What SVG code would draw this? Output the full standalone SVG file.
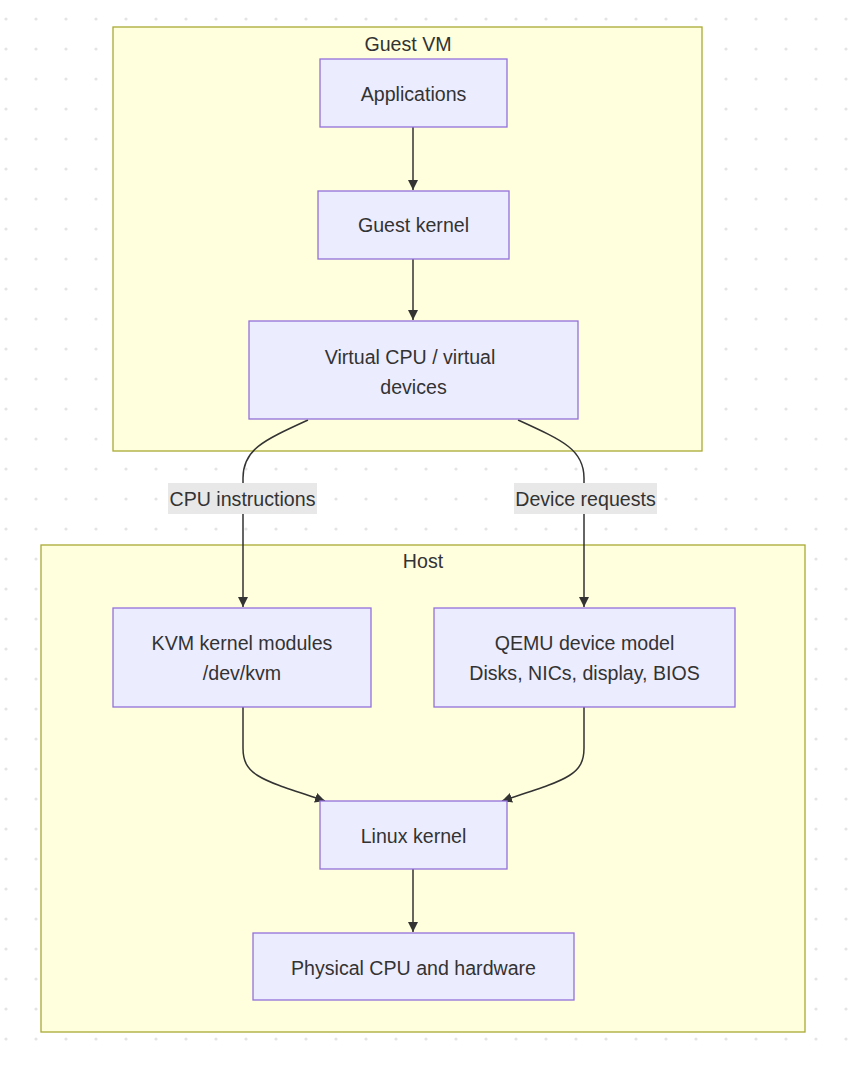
<svg xmlns="http://www.w3.org/2000/svg" width="849" height="1065" viewBox="0 0 849 1065">
<defs>
<pattern id="dots" x="0" y="0" width="30" height="30" patternUnits="userSpaceOnUse">
<circle cx="6" cy="19" r="1.6" fill="#e4e4e4"/>
</pattern>
<marker id="arr" viewBox="0 0 10 10" refX="10" refY="5" markerWidth="10" markerHeight="10" markerUnits="userSpaceOnUse" orient="auto">
<path d="M0,0 L10,5 L0,10 z" fill="#333"/>
</marker>
<style>
.cl{fill:#ffffde;stroke:#aaaa33;stroke-width:1.3}
.nd{fill:#ececff;stroke:#9370db;stroke-width:1.3}
.t{font-family:"Liberation Sans",Arial,sans-serif;font-size:19.6px;fill:#333;text-anchor:middle;dominant-baseline:central}
.e{fill:none;stroke:#333;stroke-width:1.5;marker-end:url(#arr)}
.lb{fill:#e8e8e8}
</style>
</defs>
<rect width="849" height="1065" fill="#ffffff"/>
<rect width="849" height="1065" fill="url(#dots)"/>
<g id="guest-vm">
<rect class="cl" x="113" y="27" width="589" height="424"/>
<text class="t" x="408" y="44">Guest VM</text>
</g>
<g id="host">
<rect class="cl" x="41" y="545" width="764" height="487"/>
<text class="t" x="423" y="561">Host</text>
</g>
<g id="connectors">
<path class="e" d="M413,127 L413,190"/>
<path class="e" d="M413,259 L413,320"/>
<path class="e" d="M308,420 C262,441 243,450 243,478 L243,607"/>
<path class="e" d="M518,420 C564,441 584,450 584,478 L584,607"/>
<path class="e" d="M243,707 L243,748 C243,776 262,780 325,801"/>
<path class="e" d="M584,707 L584,748 C584,776 565,780 502,801"/>
<path class="e" d="M413,869 L413,932"/>
<g id="label-cpu">
<rect class="lb" x="168" y="483" width="149" height="31"/>
<text class="t" x="242.5" y="498.5">CPU instructions</text>
</g>
<g id="label-dev">
<rect class="lb" x="514" y="483" width="143" height="31"/>
<text class="t" x="585.5" y="498.5">Device requests</text>
</g>
</g>
<g id="applications">
<rect class="nd" x="320" y="59" width="187" height="68"/>
<text class="t" x="413.5" y="94">Applications</text>
</g>
<g id="guest-kernel">
<rect class="nd" x="318" y="191" width="191" height="68"/>
<text class="t" x="413.5" y="225">Guest kernel</text>
</g>
<g id="virtual-cpu">
<rect class="nd" x="249" y="321" width="329" height="98"/>
<text class="t" x="410" y="357">Virtual CPU / virtual</text>
<text class="t" x="413.5" y="387">devices</text>
</g>
<g id="kvm">
<rect class="nd" x="113" y="608" width="258" height="99"/>
<text class="t" x="242" y="643">KVM kernel modules</text>
<text class="t" x="242" y="673">/dev/kvm</text>
</g>
<g id="qemu">
<rect class="nd" x="434" y="608" width="301" height="99"/>
<text class="t" x="584.5" y="643">QEMU device model</text>
<text class="t" x="584.5" y="673">Disks, NICs, display, BIOS</text>
</g>
<g id="linux-kernel">
<rect class="nd" x="320" y="801" width="187" height="68"/>
<text class="t" x="413.5" y="836">Linux kernel</text>
</g>
<g id="physical">
<rect class="nd" x="253" y="933" width="321" height="67"/>
<text class="t" x="413.5" y="968">Physical CPU and hardware</text>
</g>
</svg>
